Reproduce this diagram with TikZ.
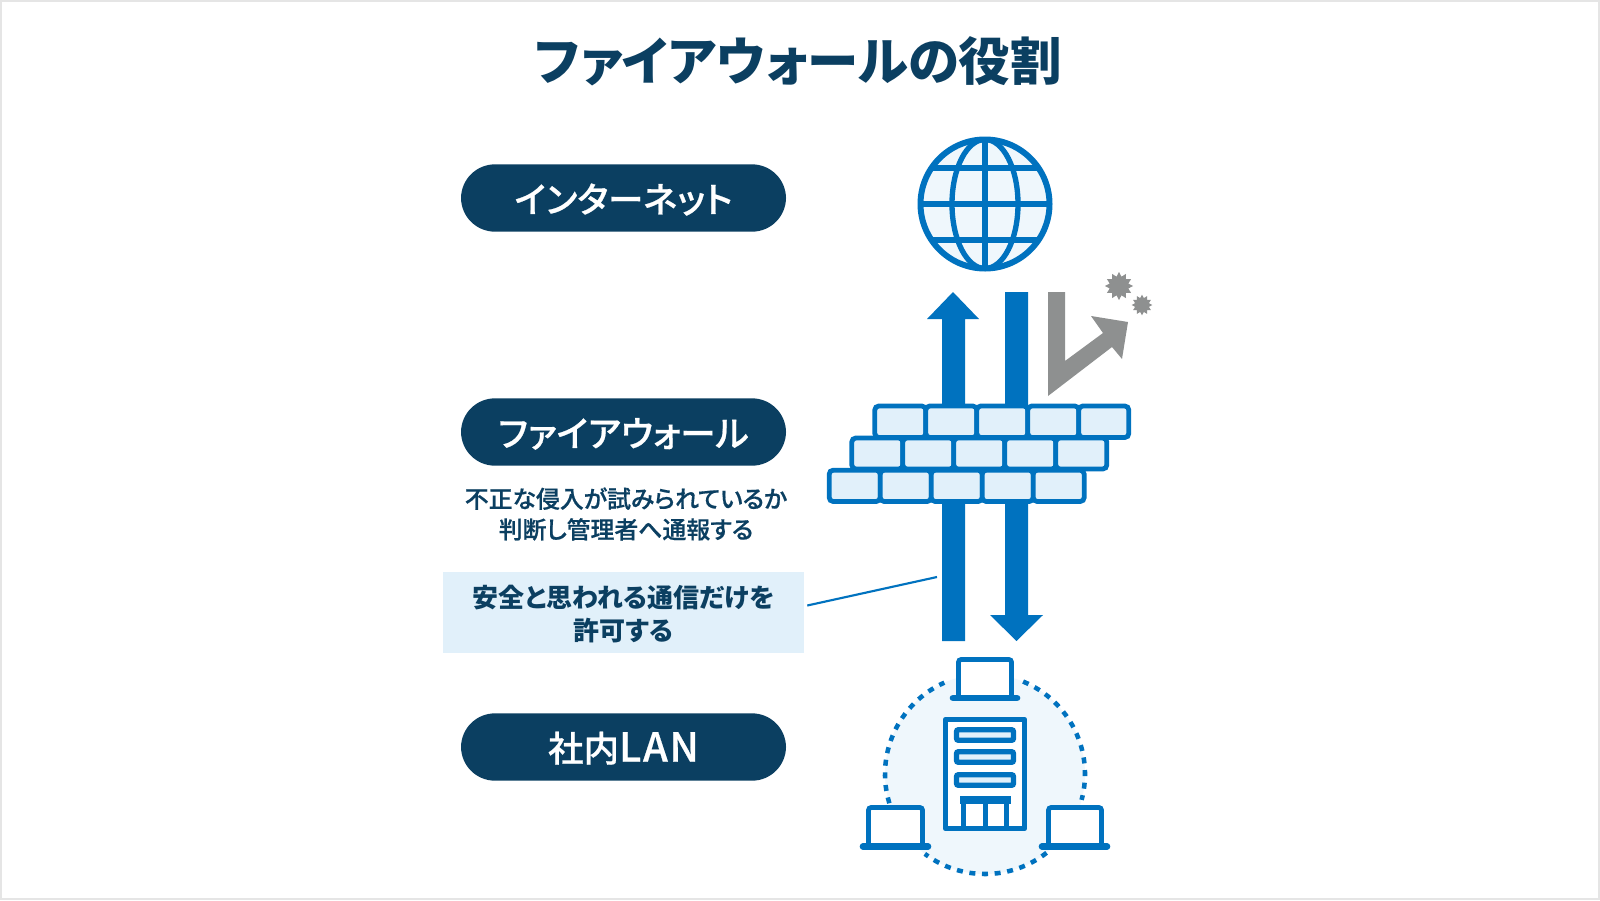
\documentclass[tikz,border=0pt]{standalone}
\usepackage{fontspec}
\setmainfont[RawFeature=+palt]{Noto Sans CJK JP}
\newfontfamily\medfont[RawFeature=+palt,FakeBold=0.6]{Noto Sans CJK JP Medium}
\usepackage{tikz}
\usetikzlibrary{shapes.geometric}
\definecolor{navy}{HTML}{0B3F61}
\definecolor{wallblue}{HTML}{0072BF}
\definecolor{palesky}{HTML}{E1F0FA}
\definecolor{faintsky}{HTML}{EFF7FC}
\definecolor{alertgray}{HTML}{8E9090}
\tikzset{
  pill/.style={fill=navy,text=white,rounded corners=25.5pt,minimum width=243.75pt,minimum height=50.5pt,inner sep=0pt,text height=25pt,text depth=3pt,font=\fontsize{26.6}{30}\medfont},
  brick/.style={draw=wallblue,fill=palesky,line width=3.6pt,rounded corners=3pt},
  iconline/.style={draw=wallblue,line width=4pt,line join=round},
  dashring/.style={draw=wallblue,line width=3.4pt,dash pattern={on 4.5pt off 5pt}},
  laptopscreen/.style={draw=wallblue,fill=white,line width=3.6pt,rounded corners=2pt},
  laptopbase/.style={draw=wallblue,line width=5pt,line cap=round},
  window/.style={draw=wallblue,fill=palesky,line width=4pt,rounded corners=1.5pt},
  burst/.style={star,star points=12,star point ratio=1.45,fill=alertgray,inner sep=0pt}
}
\begin{document}
\begin{tikzpicture}[x=0.75pt,y=0.75pt,yscale=-1,xscale=1]
\useasboundingbox (0,0) rectangle (1600,900);
%Shape: Rectangle [id:frame]
\draw [draw=black!10,fill=white,line width=1.5pt] (1,1) rectangle (1599,899);

% Text Node
\node (title) [text=navy,font=\fontsize{38.6}{44}\selectfont\bfseries] at (798.5,61) {ファイアウォールの役割};
% Text Node
\node (internetPill) [pill] at (623.5,198) {インターネット};
% Text Node
\node (firewallPill) [pill] at (623.5,432) {ファイアウォール};
% Text Node
\node (lanPill) [pill] at (623.5,747) {社内{\fontsize{30}{30}\selectfont\addfontfeature{LetterSpace=4}LAN}};
% Text Node
\node (firewallNote) [text=navy,align=center,font=\fontsize{17.9}{23}\medfont] at (626,514) {不正な侵入が試みられているか\\判断し管理者へ通報する};
% Text Node
\node (safeBox) [fill=palesky,minimum width=270.75pt,minimum height=61pt,inner sep=0pt] at (623.5,612.5) {};
\node (safeText) [text=navy,align=center,font=\fontsize{19.5}{25}\selectfont\bfseries] at (623.5,614) {安全と思われる通信だけを\\許可する};

%Straight Lines
\coordinate (calloutEnd) at (937,577);
\draw [draw=wallblue,line width=1.6pt] ([xshift=2.25pt,yshift=-5.25pt]safeBox.east) -- (calloutEnd);

%Shape: Globe
\draw [fill=faintsky,draw=none] (985,204) circle (64.5);
\begin{scope}
\clip (985,204) circle (64.5);
\draw [iconline] (920,204) -- (1050,204);
\draw [iconline] (920,168) -- (1050,168);
\draw [iconline] (920,240) -- (1050,240);
\draw [iconline] (985,139) -- (985,269);
\draw [iconline] (985,204) ellipse (33 and 64.5);
\end{scope}
\draw [iconline,line width=4.5pt] (985,204) circle (64.5);

%Shape: Arrow up
\fill [wallblue] (942,641) -- (942,319) -- (927,319) -- (953,292) -- (979,319) -- (965,319) -- (965,641) -- cycle;
%Shape: Arrow down
\fill [wallblue] (1005,292) -- (1028,292) -- (1028,615) -- (1043,615) -- (1016.5,641) -- (990,615) -- (1005,615) -- cycle;
%Shape: Arrow deflected
\fill [alertgray] (1048,292) -- (1065,292) -- (1065,361) -- (1103,333) -- (1091,316) -- (1128,322) -- (1122,359) -- (1112,347) -- (1048,396) -- cycle;
% Bursts
\node (burstLarge) [burst,minimum size=21pt] at (1119,286) {};
\node (burstSmall) [burst,minimum size=15.5pt] at (1142,305) {};

%Shape: Bricks top row
\draw [brick] (874.8,406) rectangle (925.8,437.5);
\draw [brick] (925.8,406) rectangle (976.8,437.5);
\draw [brick] (976.8,406) rectangle (1027.8,437.5);
\draw [brick] (1027.8,406) rectangle (1078.8,437.5);
\draw [brick] (1078.8,406) rectangle (1128.8,437.5);
%Shape: Bricks middle row
\draw [brick] (851.8,438) rectangle (902.8,469);
\draw [brick] (902.8,438) rectangle (953.8,469);
\draw [brick] (953.8,438) rectangle (1004.8,469);
\draw [brick] (1004.8,438) rectangle (1055.8,469);
\draw [brick] (1055.8,438) rectangle (1106.8,469);
%Shape: Bricks bottom row
\draw [brick] (829.2,470.2) rectangle (880.2,501.5);
\draw [brick] (880.2,470.2) rectangle (931.2,501.5);
\draw [brick] (931.2,470.2) rectangle (982.2,501.5);
\draw [brick] (982.2,470.2) rectangle (1033.2,501.5);
\draw [brick] (1033.2,470.2) rectangle (1084.2,501.5);

%Shape: Circle dashed
\fill [faintsky] (985,774) circle (100);
\draw [dashring] (985,774) ++(-67.6:100) arc (-67.6:15:100);
\draw [dashring] (985,774) ++(52:100) arc (52:127:100);
\draw [dashring] (985,774) ++(163:100) arc (163:246:100);

%Shape: Laptop top
\draw [laptopscreen] (958.5,659.5) rectangle (1011.5,698);
\draw [laptopbase] (953,698) -- (1017,698);
%Shape: Laptop left
\draw [laptopscreen] (868.5,807.5) rectangle (922.5,846);
\draw [laptopbase] (863,846.5) -- (928,846.5);
%Shape: Laptop right
\draw [laptopscreen] (1048.5,807.5) rectangle (1101.5,846);
\draw [laptopbase] (1042,846.5) -- (1107,846.5);

%Shape: Building
\draw [iconline,fill=white] (945.5,719.5) rectangle (1024.5,828.5);
\draw [window] (956.5,729.7) rectangle (1013.5,740.3);
\draw [window] (956.5,751.7) rectangle (1013.5,762.3);
\draw [window] (956.5,774.7) rectangle (1013.5,785.3);
\fill [wallblue] (960,796) rectangle (1011,804);
\draw [iconline] (963.5,800) -- (963.5,828);
\draw [iconline] (985.5,800) -- (985.5,828);
\draw [iconline] (1006.5,800) -- (1006.5,828);
\end{tikzpicture}
\end{document}
